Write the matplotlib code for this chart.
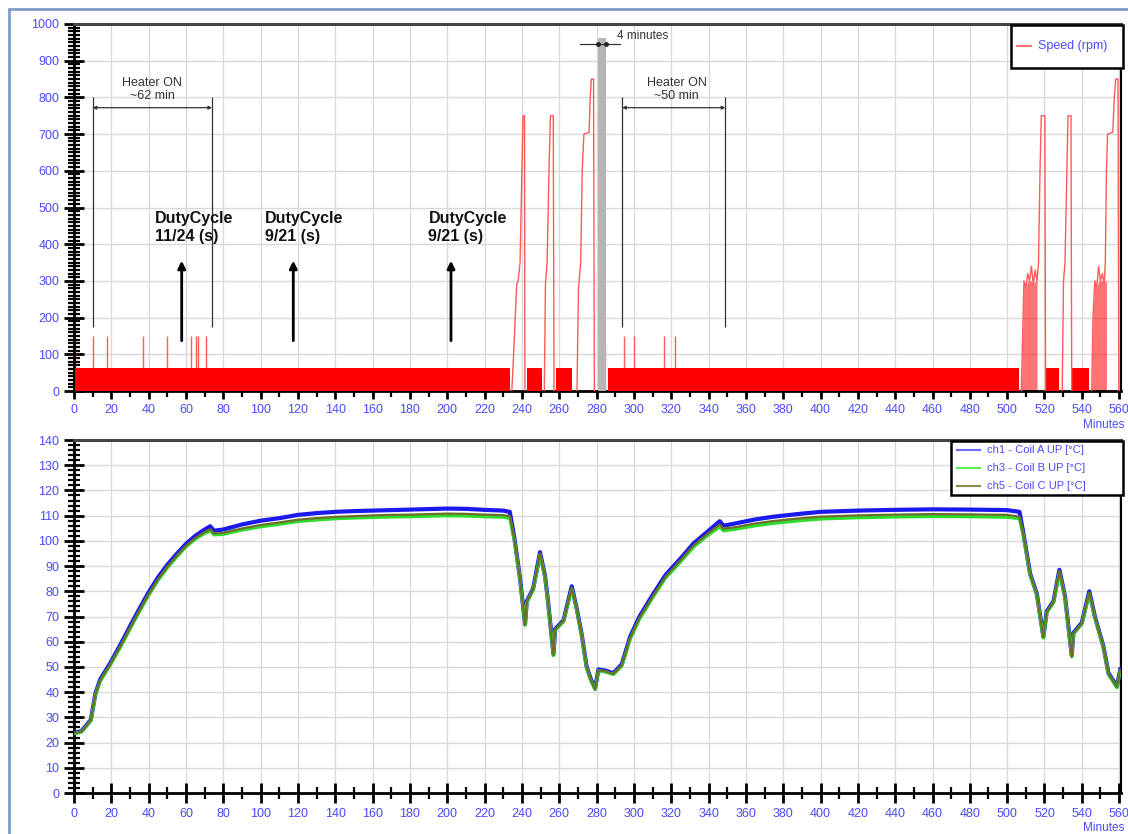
import matplotlib
matplotlib.use("Agg")
import matplotlib.pyplot as plt
from matplotlib.ticker import MultipleLocator
from matplotlib.patches import Rectangle
from matplotlib.lines import Line2D

plt.rcParams['font.family'] = ['Liberation Sans', 'DejaVu Sans']

# ---------------- data ----------------
# speed (rpm): duty-cycle band segments (start min, end min) at band level
band_segments = [(0.3, 233.4), (242.7, 250.8), (258.4, 266.6), (285.9, 506.5),
                 (520.9, 527.7), (534.9, 543.8)]
band_level = 62
spike_times = [0.3, 10.2, 17.7, 37.0, 50.0, 62.5, 65.3, 66.5, 70.5, 284.6,
               294.7, 300.0, 316.0, 322.0, 560.3]
spike_values = [120, 150, 150, 150, 150, 150, 150, 150, 150, 130,
                150, 150, 150, 150, 100]

burst1_t = [234.6, 236.0, 237.2, 238.0, 239.0, 240.0, 240.6, 241.4, 241.6]
burst1_v = [0, 150, 290, 300, 350, 600, 750, 750, 0]
burst2_t = [252.0, 252.6, 253.5, 254.5, 255.3, 256.8, 257.2]
burst2_v = [0, 290, 350, 600, 750, 750, 0]
burst3_t = [269.5, 270.3, 271.5, 272.3, 273.2, 276.0, 276.6, 277.2, 278.4, 278.8]
burst3_v = [0, 280, 350, 600, 700, 705, 800, 850, 850, 0]
burst4_t = [507.6, 508.3, 509.0, 510.0, 511.0, 512.0, 513.0, 514.0, 515.0,
            516.0, 516.8, 517.6, 518.3, 519.0, 520.2, 520.6]
burst4_v = [0, 150, 300, 280, 320, 300, 340, 290, 330, 300, 350, 600, 750, 750, 750, 0]
burst5_t = [529.5, 530.2, 531.0, 532.0, 532.6, 534.2, 534.6]
burst5_v = [0, 300, 350, 600, 750, 750, 0]
burst6_t = [545.3, 546.0, 547.0, 548.0, 549.0, 550.0, 551.0, 552.0, 552.6,
            553.2, 553.8, 556.6, 557.4, 558.2, 559.4, 559.8]
burst6_v = [0, 200, 300, 280, 340, 300, 320, 290, 350, 600, 700, 705, 800,
            850, 850, 0]
stop_bar = (280.8, 284.8, 962)   # gray idle bar: start, end, height

# coil temperatures (deg C)
temp_t = [0, 4, 9, 11.5, 14, 19.5, 25, 30, 35, 40, 45, 50, 55, 60, 65, 70, 73,
          75, 80, 85, 90, 100, 110, 120, 130, 140, 150, 160, 170, 180, 190, 200,
          210, 220, 230, 233.5, 236, 239, 241.7, 242.6, 246, 249.7, 252.4, 254,
          256.9, 257.8, 262.3, 266.7, 269.4, 272, 274.7, 277, 279.2, 281, 285,
          289, 293.5, 298, 303, 310, 317, 325, 332, 340, 346, 348, 355, 365,
          375, 390, 400, 420, 440, 460, 480, 500, 506.6, 508.7, 512.3, 515.9,
          519.4, 521.2, 524.8, 528, 531, 534.6, 535.5, 540, 544, 547, 551.6,
          554.3, 558.8, 560.6]
coil_a = [23.8, 24.5, 29.0, 39.5, 45.0, 51.6, 59.0, 66.1, 73.0, 79.6, 85.5,
          90.5, 94.8, 98.8, 102.0, 104.5, 105.8, 104.0, 104.5, 105.5, 106.5,
          108.0, 109.0, 110.3, 111.0, 111.5, 111.8, 112.0, 112.2, 112.4, 112.6,
          112.8, 112.7, 112.3, 112.0, 111.5, 101.0, 85.0, 67.0, 76.0, 81.0,
          95.5, 86.0, 76.0, 55.0, 65.0, 68.5, 82.0, 73.0, 63.0, 50.0, 45.0,
          41.5, 49.0, 48.5, 47.5, 51.0, 62.0, 70.0, 78.5, 86.5, 93.0, 99.0,
          104.0, 107.8, 106.0, 107.0, 108.5, 109.6, 110.8, 111.5, 112.0, 112.3,
          112.5, 112.4, 112.2, 111.5, 103.0, 87.0, 79.0, 62.0, 72.0, 76.0,
          88.5, 78.0, 54.5, 63.5, 67.5, 80.0, 70.0, 58.0, 47.5, 42.3, 49.0]
coil_b = [23.5, 24.2, 28.6, 39.0, 44.3, 50.8, 58.0, 65.0, 71.9, 78.4, 84.3,
          89.3, 93.6, 97.6, 100.7, 103.0, 104.0, 102.4, 102.6, 103.5, 104.3,
          105.6, 106.6, 107.7, 108.3, 108.8, 109.1, 109.3, 109.5, 109.6, 109.8,
          110.0, 109.9, 109.6, 109.4, 109.0, 100.0, 84.5, 66.5, 75.5, 80.5,
          94.5, 85.5, 75.5, 54.5, 64.5, 68.0, 81.0, 72.5, 62.5, 49.5, 44.5,
          41.0, 48.5, 48.0, 47.0, 50.3, 61.0, 69.0, 77.4, 85.3, 91.7, 97.6,
          102.4, 105.6, 104.0, 104.7, 106.0, 107.0, 108.1, 108.7, 109.2, 109.5,
          109.7, 109.6, 109.4, 108.8, 102.0, 86.5, 78.5, 61.5, 71.5, 75.5,
          87.5, 77.5, 54.0, 63.0, 67.0, 79.0, 69.5, 57.5, 47.0, 41.8, 48.5]
coil_c = [23.6, 24.3, 28.8, 39.2, 44.6, 51.1, 58.4, 65.4, 72.3, 78.8, 84.7,
          89.7, 94.0, 98.0, 101.1, 103.5, 104.6, 103.0, 103.2, 104.1, 104.9,
          106.3, 107.3, 108.4, 109.0, 109.5, 109.8, 110.1, 110.3, 110.4, 110.6,
          110.8, 110.7, 110.4, 110.2, 109.8, 100.4, 84.7, 66.7, 75.7, 80.7,
          95.0, 85.7, 75.7, 54.7, 64.7, 68.2, 81.5, 72.7, 62.7, 49.7, 44.7,
          41.2, 48.7, 48.2, 47.2, 50.6, 61.5, 69.4, 77.9, 85.8, 92.3, 98.2,
          103.1, 106.5, 104.8, 105.5, 106.9, 107.9, 109.0, 109.6, 110.1, 110.4,
          110.6, 110.5, 110.3, 109.6, 102.4, 86.7, 78.7, 61.7, 71.7, 75.7,
          88.0, 77.7, 54.2, 63.2, 67.2, 79.5, 69.7, 57.7, 47.2, 42.0, 48.7]

speed_label = 'Speed (rpm)'
coil_labels = ['ch1 - Coil A UP [°C]', 'ch3 - Coil B UP [°C]', 'ch5 - Coil C UP [°C]']
speed_ticks = list(range(0, 1001, 100))
temp_ticks = list(range(0, 141, 10))
minute_ticks = list(range(0, 561, 20))

# ---------------- figure ----------------
W, H = 1128, 834
fig = plt.figure(figsize=(W / 100, H / 100), dpi=100)
fig.patch.set_facecolor('white')

def fx(px):
    return px / W

def fy(py):
    return 1 - py / H

ax1 = fig.add_axes([fx(74), fy(391), fx(1121) - fx(74), fy(24) - fy(391)])
ax2 = fig.add_axes([fx(74), fy(793), fx(1121) - fx(74), fy(440) - fy(793)])

tick_col = '#4a4aff'
red = '#ff0000'
light_red = '#ff5a5a'

for ax in (ax1, ax2):
    ax.set_xlim(0, 561)
    ax.set_xticks(minute_ticks)
    ax.xaxis.set_minor_locator(MultipleLocator(10))
    ax.grid(True, which='major', color='#d9d9d9', lw=1.0)
    ax.set_axisbelow(True)
    ax.tick_params(labelcolor=tick_col, labelsize=9)
    ax.spines['left'].set_linewidth(2.0)
    ax.spines['bottom'].set_linewidth(2.0)
    ax.spines['top'].set_linewidth(2.2)
    ax.spines['top'].set_color('#444444')
    ax.spines['right'].set_linewidth(1.5)

# ---- speed panel ----
ax1.set_ylim(0, 1000)
ax1.set_yticks(speed_ticks)
ax1.yaxis.set_minor_locator(MultipleLocator(10))
ax1.tick_params(axis='y', which='major', direction='inout', length=14, width=2)
ax1.tick_params(axis='y', which='minor', direction='inout', length=8, width=1.6)
ax1.tick_params(axis='x', which='major', direction='out', length=6, width=2)
ax1.tick_params(axis='x', which='minor', direction='out', length=4, width=1.6)

for s, e in band_segments:
    ax1.fill_between([s, e], 0, band_level, color=red, lw=0, zorder=3)
ax1.vlines(spike_times, 0, spike_values, color=light_red, lw=1.0, zorder=2)
for bt, bv in [(burst1_t, burst1_v), (burst2_t, burst2_v), (burst3_t, burst3_v),
               (burst4_t, burst4_v), (burst5_t, burst5_v), (burst6_t, burst6_v)]:
    ax1.plot(bt, bv, color=light_red, lw=1.0, zorder=3)
for bt, bv in [(burst4_t, burst4_v), (burst6_t, burst6_v)]:
    ax1.fill_between(bt[:10], 0, [min(v, 300) for v in bv[:10]], color=red,
                     alpha=0.55, lw=0, zorder=2)
ax1.bar((stop_bar[0] + stop_bar[1]) / 2, stop_bar[2],
        width=stop_bar[1] - stop_bar[0], color='#b5b5b5', zorder=4)

# annotations
ann = dict(color='#333333', fontsize=9, ha='center', va='center')
for x0, x1, lab, xc in [(10.0, 74.0, 'Heater ON\n~62 min', 42.0),
                        (293.7, 349.0, 'Heater ON\n~50 min', 323.0)]:
    ax1.vlines([x0, x1], 174, 800, color='#333333', lw=0.9, zorder=5)
    ax1.annotate('', xy=(x0, 772), xytext=(x1, 772),
                 arrowprops=dict(arrowstyle='<|-|>', color='#333333', lw=0.9,
                                 mutation_scale=5, shrinkA=0, shrinkB=0))
    ax1.text(xc, 822, lab, linespacing=1.15, **ann)

ax1.plot([271.0, 292.6], [945, 945], color='#333333', lw=0.9, zorder=5)
ax1.plot([stop_bar[0], stop_bar[1]], [945, 945], 'o', color='#222222', ms=2.5, zorder=6)
ax1.text(291.0, 967, '4 minutes', color='#333333', fontsize=8.5, ha='left', va='center')

for xt, lab, xa in [(43.4, 'DutyCycle\n11/24 (s)', 57.7),
                    (102.4, 'DutyCycle\n9/21 (s)', 117.5),
                    (189.9, 'DutyCycle\n9/21 (s)', 202.0)]:
    ax1.text(xt, 446, lab, fontsize=11.5, fontweight='bold', ha='left',
             va='center', color='#111111', linespacing=1.2, zorder=6)
    ax1.annotate('', xy=(xa, 355), xytext=(xa, 137),
                 arrowprops=dict(arrowstyle='-|>', color='black', lw=2.0,
                                 mutation_scale=11, shrinkA=0, shrinkB=0))

# ---- temperature panel ----
ax2.set_ylim(0, 140)
ax2.set_yticks(temp_ticks)
ax2.yaxis.set_minor_locator(MultipleLocator(2))
ax2.tick_params(axis='y', which='major', direction='inout', length=14, width=2)
ax2.tick_params(axis='y', which='minor', direction='inout', length=8, width=1.6)
ax2.tick_params(axis='x', which='major', direction='inout', length=14, width=2)
ax2.tick_params(axis='x', which='minor', direction='inout', length=9, width=1.6)

ax2.plot(temp_t, coil_a, color='#1a1aee', lw=3.0, zorder=3)
ax2.plot(temp_t, coil_b, color='#2edc2e', lw=2.4, zorder=4)
ax2.plot(temp_t, coil_c, color='#6e6e28', lw=1.6, zorder=5)

# ---- legend boxes (drawn in figure pixel positions) ----
def legend_box(x0, y0, x1, y1, rows, fs, hx0, hx1, tx):
    fig.patches.append(Rectangle((fx(x0), fy(y1)), fx(x1) - fx(x0), fy(y0) - fy(y1),
                                 transform=fig.transFigure, facecolor='white',
                                 edgecolor='black', lw=1.8, zorder=10))
    for ypix, col, lab in rows:
        fig.lines.append(Line2D([fx(hx0), fx(hx1)], [fy(ypix), fy(ypix)],
                                transform=fig.transFigure, color=col, lw=1.5,
                                zorder=11))
        fig.text(fx(tx), fy(ypix), lab, color=tick_col, fontsize=fs,
                 ha='left', va='center', zorder=12)

legend_box(1011, 25, 1123, 68, [(46, '#ff7070', speed_label)], 9, 1017, 1031, 1038)
legend_box(951, 441, 1123, 495,
           [(450, '#6b6bff', coil_labels[0]),
            (468, '#55ee55', coil_labels[1]),
            (486, '#8a8a4a', coil_labels[2])], 8, 957, 980, 987)

fig.text(fx(1124), fy(425), 'Minutes', color=tick_col, fontsize=8.5, ha='right', va='center')
fig.text(fx(1124), fy(828), 'Minutes', color=tick_col, fontsize=8.5, ha='right', va='center')

fig.patches.append(Rectangle((fx(9), -0.1), 1.2, fy(9) + 0.1, transform=fig.transFigure,
                             fill=False, edgecolor='#7f9ccb', lw=2.0))

fig.savefig('out.png', dpi=100)
